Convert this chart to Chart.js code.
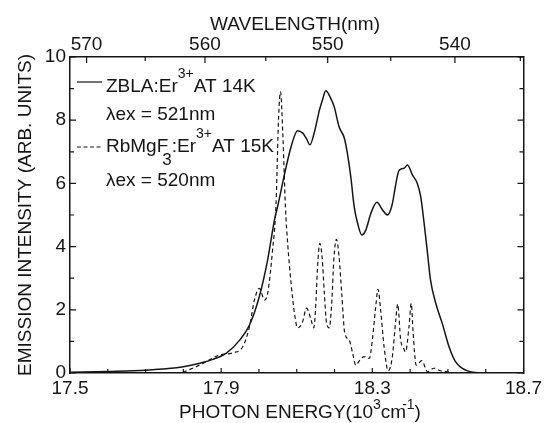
<!DOCTYPE html>
<html>
<head>
<meta charset="utf-8">
<script src="https://cdn.jsdelivr.net/npm/chart.js@4/dist/chart.umd.min.js"></script>
<style>
  body { margin: 0; background: #fff; }
  canvas { display: block; }
</style>
</head>
<body>
<canvas id="spectrum" width="546" height="423"></canvas>
<script>
// ZBLA:Er3+ at 14K (solid line)
const zblaEnergy = [17.50, 17.60, 17.70, 17.76, 17.80, 17.843, 17.878, 17.913, 17.949, 17.975,
    18.001, 18.023, 18.041, 18.050, 18.070, 18.085, 18.102, 18.116, 18.125, 18.135,
    18.146, 18.160, 18.168, 18.177, 18.188, 18.199, 18.212, 18.226, 18.234, 18.243,
    18.252, 18.261, 18.272, 18.283, 18.296, 18.312, 18.327, 18.340, 18.351, 18.371,
    18.384, 18.393, 18.406, 18.419, 18.428, 18.437, 18.446, 18.454, 18.468, 18.485,
    18.503, 18.520, 18.547, 18.582, 18.70];
const zblaIntensity = [0.02, 0.05, 0.09, 0.14, 0.20, 0.31, 0.43, 0.62, 1.04, 1.52,
    2.42, 3.58, 4.84, 5.30, 6.42, 7.16, 7.67, 7.59, 7.43, 7.22,
    7.59, 8.32, 8.64, 8.93, 8.74, 8.43, 7.79, 7.43, 6.95, 6.21,
    5.26, 4.74, 4.37, 4.53, 5.05, 5.40, 5.16, 5.00, 5.26, 6.42,
    6.48, 6.58, 6.27, 6.00, 5.58, 4.74, 3.79, 2.94, 2.20, 1.57,
    0.83, 0.36, 0.09, 0.01, 0.00];

// RbMgF3:Er3+ at 15K (dashed line)
const rbEnergy = [17.799, 17.843, 17.896, 17.931, 17.957, 17.975, 17.988, 18.001, 18.015, 18.023,
    18.036, 18.045, 18.052, 18.057, 18.063, 18.070, 18.076, 18.085, 18.094, 18.102,
    18.114, 18.126, 18.138, 18.145, 18.151, 18.155, 18.161, 18.167, 18.173, 18.179,
    18.186, 18.193, 18.198, 18.205, 18.212, 18.219, 18.227, 18.239, 18.248, 18.256,
    18.270, 18.281, 18.292, 18.300, 18.309, 18.315, 18.322, 18.331, 18.342, 18.353,
    18.362, 18.367, 18.375, 18.381, 18.388, 18.397, 18.403, 18.408, 18.416, 18.431,
    18.446, 18.463, 18.481, 18.503];
const rbIntensity = [0.02, 0.25, 0.57, 0.64, 0.83, 1.47, 2.31, 2.68, 2.31, 2.52,
    3.89, 5.30, 8.11, 8.90, 7.59, 5.26, 4.10, 2.84, 1.89, 1.43,
    1.57, 2.05, 1.68, 1.43, 2.31, 3.36, 4.10, 3.68, 2.52, 1.57,
    1.43, 2.31, 3.58, 4.23, 3.68, 2.52, 1.26, 1.04, 0.62, 0.25,
    0.46, 0.52, 0.46, 1.04, 2.10, 2.65, 1.99, 0.83, 0.07, 0.52,
    1.68, 2.18, 1.04, 0.83, 0.67, 1.47, 2.20, 1.26, 0.25, 0.39,
    0.04, 0.15, 0.07, 0.03];

// axes
const energyLabels = [17.5, 17.9, 18.3, 18.7];
const wavelengthTicks = [570, 565, 560, 555, 550, 545, 540, 535];
const wavelengthLabels = [570, 560, 550, 540];
const intensityLabels = [0, 2, 4, 6, 8, 10];

const legendLines = [
    [["ZBLA:Er"], ["3+", "sup"], ["AT 14K"]],
    [["λex = 521nm"]],
    [["RbMgF"], ["3", "sub"], [":Er"], ["3+", "sup"], ["AT 15K"]],
    [["λex = 520nm"]]
];

const INK = "#151515";
const FONT = "'Liberation Sans', Arial, sans-serif";

const textStyles = {
    normal: { size: 19, dy: 0, dx: 0 },
    sup: { size: 14, dy: -14, dx: 0 },
    sub: { size: 17, dy: 13, dx: -6 },
    tsup: { size: 14, dy: -9, dx: 0 },
    tsup2: { size: 14, dy: -9, dx: -4 }
};

function drawRich(ctx, x, y, parts, align) {
    let total = 0;
    parts.forEach(p => {
        const s = textStyles[p[1] || "normal"];
        ctx.font = s.size + "px " + FONT;
        total += ctx.measureText(p[0]).width + s.dx;
    });
    let cx = align === "center" ? x - total / 2 : x;
    parts.forEach(p => {
        const s = textStyles[p[1] || "normal"];
        ctx.font = s.size + "px " + FONT;
        cx += s.dx;
        ctx.fillText(p[0], cx, y + s.dy);
        cx += ctx.measureText(p[0]).width;
    });
}

const decorations = {
    id: "decorations",
    afterDraw(chart) {
        const ctx = chart.ctx;
        const { x, x2, y } = chart.scales;
        const area = chart.chartArea;
        ctx.save();
        ctx.strokeStyle = INK;
        ctx.fillStyle = INK;
        ctx.lineWidth = 1.2;

        // inward tick marks
        ctx.beginPath();
        x.ticks.forEach(t => {
            const px = x.getPixelForValue(t.value);
            const len = energyLabels.some(v => Math.abs(v - t.value) < 1e-6) ? 5 : 4;
            ctx.moveTo(px, area.bottom);
            ctx.lineTo(px, area.bottom - len);
        });
        x2.ticks.forEach((t, i) => {
            const px = x2.getPixelForValue(t.value);
            const len = wavelengthLabels.includes(wavelengthTicks[i]) ? 6 : 4;
            ctx.moveTo(px, area.top);
            ctx.lineTo(px, area.top + len);
        });
        y.ticks.forEach(t => {
            const py = y.getPixelForValue(t.value);
            const len = intensityLabels.includes(t.value) ? 6 : 4;
            ctx.moveTo(area.left, py);
            ctx.lineTo(area.left + len, py);
            ctx.moveTo(area.right, py);
            ctx.lineTo(area.right - len, py);
        });
        ctx.stroke();

        // axis titles
        ctx.textBaseline = "alphabetic";
        drawRich(ctx, 295, 30, [["WAVELENGTH(nm)"]], "center");
        drawRich(ctx, 300, 418, [["PHOTON ENERGY(10"], ["3", "tsup"], ["cm"], ["-1", "tsup2"], [")"]], "center");
        ctx.save();
        ctx.translate(31, (area.top + area.bottom) / 2);
        ctx.rotate(-Math.PI / 2);
        drawRich(ctx, 0, 0, [["EMISSION INTENSITY (ARB. UNITS)"]], "center");
        ctx.restore();

        // legend
        const baselines = [92, 120, 152, 186];
        legendLines.forEach((parts, i) => drawRich(ctx, 106, baselines[i], parts, "left"));
        ctx.lineWidth = 1.2;
        ctx.beginPath();
        ctx.moveTo(77, 82);
        ctx.lineTo(102, 82);
        ctx.stroke();
        ctx.setLineDash([4, 2.5]);
        ctx.beginPath();
        ctx.moveTo(77, 147);
        ctx.lineTo(102, 147);
        ctx.stroke();
        ctx.restore();
    }
};

const tickFont = { family: FONT, size: 19 };
const noGrid = { display: false, drawTicks: false, tickLength: 0 };
const frame = { display: true, color: INK, width: 1.5 };

new Chart(document.getElementById("spectrum"), {
    type: "line",
    data: {
        datasets: [
            {
                label: "ZBLA:Er3+ AT 14K",
                data: zblaEnergy.map((e, i) => ({ x: e, y: zblaIntensity[i] })),
                borderColor: INK,
                borderWidth: 1.5,
                pointRadius: 0,
                fill: false,
                cubicInterpolationMode: "monotone"
            },
            {
                label: "RbMgF3:Er3+ AT 15K",
                data: rbEnergy.map((e, i) => ({ x: e, y: rbIntensity[i] })),
                borderColor: INK,
                borderWidth: 1.2,
                borderDash: [4, 3],
                pointRadius: 0,
                fill: false,
                cubicInterpolationMode: "monotone"
            }
        ]
    },
    options: {
        responsive: false,
        animation: false,
        devicePixelRatio: 1,
        layout: { padding: 0 },
        plugins: {
            legend: { display: false },
            tooltip: { enabled: false }
        },
        scales: {
            x: {
                type: "linear",
                position: "bottom",
                min: 17.5,
                max: 18.7,
                afterFit: s => { s.height = 50; },
                grid: noGrid,
                border: frame,
                ticks: {
                    stepSize: 0.1,
                    autoSkip: false,
                    maxRotation: 0,
                    padding: 4,
                    color: INK,
                    font: tickFont,
                    callback: v => energyLabels.some(l => Math.abs(l - v) < 1e-6) ? v.toFixed(1) : ""
                }
            },
            x2: {
                type: "linear",
                position: "top",
                min: 17.5,
                max: 18.7,
                afterFit: s => { s.height = 57; },
                afterBuildTicks: s => {
                    s.ticks = wavelengthTicks.map(w => ({ value: 1e4 / w }));
                },
                grid: noGrid,
                border: frame,
                ticks: {
                    autoSkip: false,
                    maxRotation: 0,
                    padding: 1,
                    color: INK,
                    font: tickFont,
                    callback: (v, i) => wavelengthLabels.includes(wavelengthTicks[i]) ? String(wavelengthTicks[i]) : ""
                }
            },
            y: {
                min: 0,
                max: 10,
                afterFit: s => { s.width = 70; },
                grid: noGrid,
                border: frame,
                ticks: {
                    stepSize: 1,
                    autoSkip: false,
                    padding: 4,
                    color: INK,
                    font: tickFont,
                    callback: v => intensityLabels.includes(v) ? String(v) : ""
                }
            },
            y2: {
                position: "right",
                min: 0,
                max: 10,
                afterFit: s => { s.width = 21; },
                grid: noGrid,
                border: frame,
                ticks: { display: false }
            }
        }
    },
    plugins: [decorations]
});
</script>
</body>
</html>
